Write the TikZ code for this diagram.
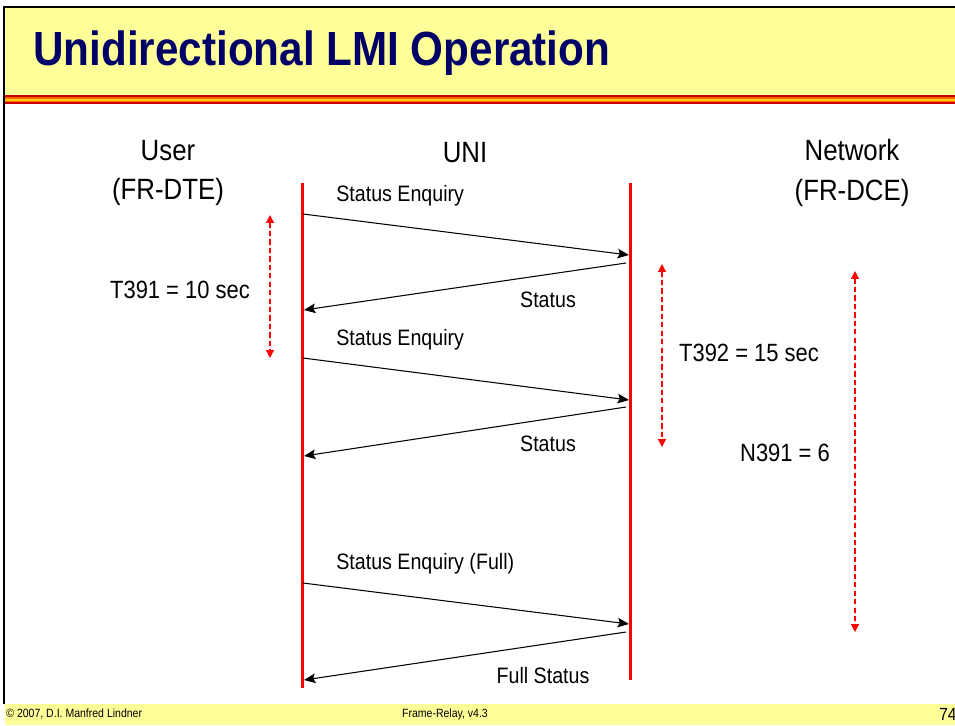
\documentclass[tikz,border=0pt]{standalone}
\usepackage{fontspec}
\setmainfont{Liberation Sans}[FakeStretch=0.88]
\usepackage{xcolor}
\usetikzlibrary{arrows.meta, positioning}
\definecolor{slideyellow}{HTML}{FFFF99}
\definecolor{titleblue}{HTML}{000066}
\definecolor{stripered}{HTML}{CC0000}
\definecolor{stripeorange}{HTML}{FF6600}
\definecolor{stripeyellow}{HTML}{FFCC00}
\tikzset{
    lifeline/.style={draw=red, line width=1.7pt},
    msg/.style={-{Stealth[length=6.5pt, width=5.5pt, inset=1.2pt]}, draw=black, line width=0.6pt},
    timer/.style={{Triangle[length=4.5pt, width=4.5pt]}-{Triangle[length=4.5pt, width=4.5pt]},
                  draw=red, fill=red, line width=0.7pt, dash pattern=on 3pt off 1.8pt},
    party/.style={inner sep=0pt, align=center, font=\fontsize{16.7}{22.6}\selectfont},
    msglabel/.style={inner sep=0pt, font=\fontsize{12.7}{14}\selectfont},
    timerlabel/.style={inner sep=0pt, font=\fontsize{14.2}{16}\selectfont},
    footer/.style={inner sep=0pt, font=\fontsize{6.8}{8}\selectfont}
}

\begin{document}
\begin{tikzpicture}[x=0.02cm, y=-0.02cm]

  % --- frame ---
  \useasboundingbox (0,0) rectangle (955,725);
  \fill[slideyellow] (5,8) rectangle (955,95);
  \draw[line width=1.2pt] (4,704) -- (4,7) -- (955,7);
  \fill[stripered]    (5,95)  rectangle (955,97);
  \fill[stripeorange] (5,97)  rectangle (955,99);
  \fill[stripeyellow] (5,99)  rectangle (955,100.5);
  \fill[stripeorange] (5,100.5) rectangle (955,102);
  \fill[stripered]    (5,102) rectangle (955,104);
  \fill[slideyellow]  (5,704) rectangle (955,725);

  % --- title ---
  \node[anchor=west, inner sep=0pt, text=titleblue,
        font=\fontsize{27.3}{30}\bfseries\selectfont] (title) at (33,53)
        {Unidirectional LMI Operation};

  % --- parties ---
  \node[party] (user) at (168,173) {User\\(FR-DTE)};
  \node[party] (uni)  at (465,153) {UNI};
  \node[party] (net)  at (852,173) {Network\\(FR-DCE)};

  % --- lifelines ---
  \coordinate (dte top) at (302,183);
  \coordinate (dte bot) at (302,688);
  \coordinate (dce top) at (630,183);
  \coordinate (dce bot) at (630,680);
  \draw[lifeline] (dte top) -- (dte bot);
  \draw[lifeline] (dce top) -- (dce bot);

  % --- messages ---
  \coordinate (enq1 a) at (303,214);
  \coordinate (enq1 b) at (629,255);
  \coordinate (stat1 a) at (626,263);
  \coordinate (stat1 b) at (304,310);
  \coordinate (enq2 a) at (303,358);
  \coordinate (enq2 b) at (629,400);
  \coordinate (stat2 a) at (626,407);
  \coordinate (stat2 b) at (304,456);
  \coordinate (enq3 a) at (303,583);
  \coordinate (enq3 b) at (629,624);
  \coordinate (stat3 a) at (626,632);
  \coordinate (stat3 b) at (304,680);
  \draw[msg] (enq1 a) -- (enq1 b);
  \draw[msg] (stat1 a) -- (stat1 b);
  \draw[msg] (enq2 a) -- (enq2 b);
  \draw[msg] (stat2 a) -- (stat2 b);
  \draw[msg] (enq3 a) -- (enq3 b);
  \draw[msg] (stat3 a) -- (stat3 b);

  \node[msglabel, anchor=west] (l enq1) at (336,196) {Status Enquiry};
  \node[msglabel] (l stat1) at (548,300) {Status};
  \node[msglabel, anchor=west] (l enq2) at (336,340) {Status Enquiry};
  \node[msglabel] (l stat2) at (548,444) {Status};
  \node[msglabel, anchor=west] (l enq3) at (336,564) {Status Enquiry (Full)};
  \node[msglabel] (l stat3) at (543,676) {Full Status};

  % --- timers ---
  \coordinate (t391 a) at (270,215);
  \coordinate (t391 b) at (270,358);
  \coordinate (t392 a) at (662,264);
  \coordinate (t392 b) at (662,447);
  \coordinate (n391 a) at (855,271);
  \coordinate (n391 b) at (855,632);
  \draw[timer] (t391 a) -- (t391 b);
  \draw[timer] (t392 a) -- (t392 b);
  \draw[timer] (n391 a) -- (n391 b);

  \node[timerlabel] (l t391) at (180,290) {T391 = 10 sec};
  \node[timerlabel] (l t392) at (749,353) {T392 = 15 sec};
  \node[timerlabel] (l n391) at (785,453) {N391 = 6};

  % --- footer ---
  \node[footer, anchor=west] (copy) at (6,714) {\textcopyright{} 2007, D.I. Manfred Lindner};
  \node[footer] (course) at (445,714) {Frame-Relay, v4.3};
  \node[inner sep=0pt, anchor=west, font=\fontsize{10}{11}\selectfont] (page) at (939,714) {74};

\end{tikzpicture}
\end{document}
